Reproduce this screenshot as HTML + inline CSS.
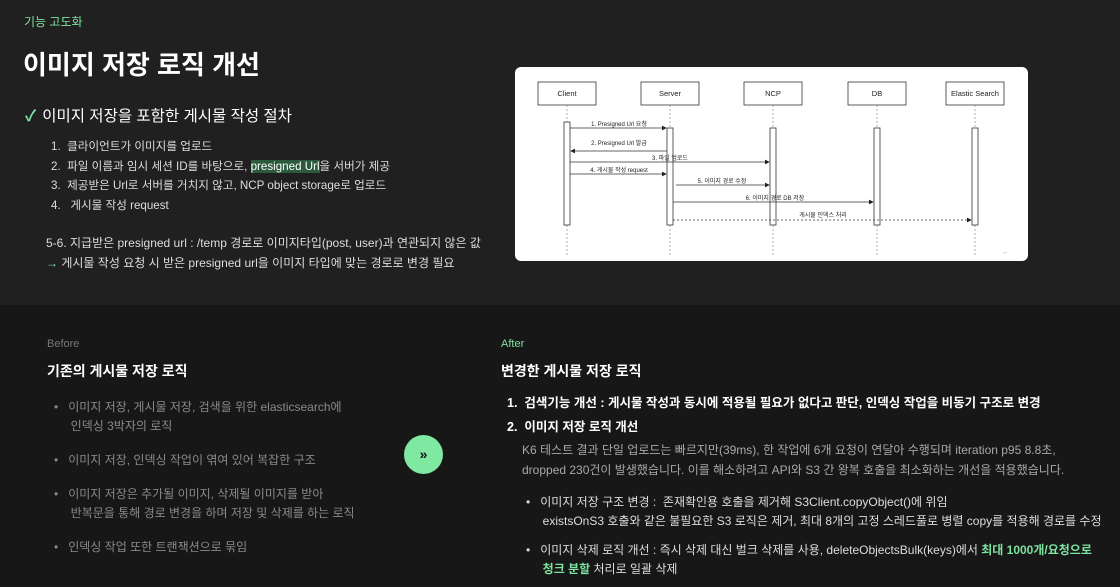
<!DOCTYPE html>
<html><head><meta charset="utf-8"><style>
*{margin:0;padding:0;box-sizing:border-box}
body{width:1120px;height:587px;overflow:hidden;background:#171717;font-family:"Liberation Sans","Noto Sans CJK KR",sans-serif;color:#e8e8e8;position:relative}
.top{position:absolute;left:0;top:0;width:1120px;height:305px;background:#202020}
.a{position:absolute;white-space:nowrap}
.g{color:#7de3a0}
</style></head><body>
<div class="top"></div>
<div class="a g" style="left:24px;top:13px;font-size:12px">기능 고도화</div>
<div class="a" style="left:23px;top:45px;font-size:26px;font-weight:bold;color:#fff">이미지 저장 로직 개선</div>
<div class="a" style="left:25px;top:104px;font-size:15.5px;color:#fff"><span class="g" style="margin-right:6px;font-weight:bold">✓</span>이미지 저장을 포함한 게시물 작성 절차</div>
<div class="a" style="left:51px;top:137px;font-size:11.6px;line-height:19.5px;color:#ddd">
1.&nbsp; 클라이언트가 이미지를 업로드<br>
2.&nbsp; 파일 이름과 임시 세션 ID를 바탕으로, <span style="background:#2c5a3c;color:#fff">presigned Url</span>을 서버가 제공<br>
3.&nbsp; 제공받은 Url로 서버를 거치지 않고, NCP object storage로 업로드<br>
4.&nbsp;&nbsp; 게시물 작성 request</div>
<div class="a" style="left:46px;top:234px;font-size:12px;line-height:19.5px;color:#ddd">
5-6. 지급받은 presigned url : /temp 경로로 이미지타입(post, user)과 연관되지 않은 값<br>
<span class="g">→</span> 게시물 작성 요청 시 받은 presigned url을 이미지 타입에 맞는 경로로 변경 필요</div>

<svg class="a" style="left:515px;top:67px" width="513" height="195" viewBox="515 67 513 195">
<rect x="515" y="67" width="513" height="194" rx="6" fill="#fff"/>
<g fill="#fff" stroke="#333" stroke-width="0.8">
<rect x="538" y="82" width="58" height="23"/><rect x="641" y="82" width="58" height="23"/><rect x="744" y="82" width="58" height="23"/><rect x="848" y="82" width="58" height="23"/><rect x="946" y="82" width="58" height="23"/>
</g>
<g font-size="7.5" fill="#222" text-anchor="middle" font-family="Liberation Sans,Noto Sans CJK KR,sans-serif">
<text x="567" y="96">Client</text><text x="670" y="96">Server</text><text x="773" y="96">NCP</text><text x="877" y="96">DB</text><text x="975" y="96">Elastic Search</text>
</g>
<g stroke="#777" stroke-width="0.6" stroke-dasharray="2,2">
<line x1="567" y1="105" x2="567" y2="256"/><line x1="670" y1="105" x2="670" y2="256"/><line x1="773" y1="105" x2="773" y2="256"/><line x1="877" y1="105" x2="877" y2="256"/><line x1="975" y1="105" x2="975" y2="256"/>
</g>
<g fill="#fff" stroke="#333" stroke-width="0.8">
<rect x="564" y="122" width="6" height="103"/><rect x="667" y="128" width="6" height="97"/><rect x="770" y="128" width="6" height="97"/><rect x="874" y="128" width="6" height="97"/><rect x="972" y="128" width="6" height="97"/>
</g>
<defs><marker id="m" markerWidth="6" markerHeight="6" refX="5" refY="3" orient="auto"><path d="M0,0L6,3L0,6z" fill="#222"/></marker></defs>
<g stroke="#333" stroke-width="0.8" marker-end="url(#m)">
<line x1="570" y1="128" x2="666" y2="128"/>
<line x1="667" y1="151" x2="571" y2="151"/>
<line x1="570" y1="162" x2="769" y2="162"/>
<line x1="570" y1="174" x2="666" y2="174"/>
<line x1="676" y1="185" x2="769" y2="185"/>
<line x1="673" y1="202" x2="873" y2="202"/>
<line x1="673" y1="220" x2="971" y2="220" stroke-dasharray="2,2"/>
</g>
<g font-size="6" fill="#222" text-anchor="middle" font-family="Liberation Sans,Noto Sans CJK KR,sans-serif">
<text x="619" y="126">1. Presigned Url 요청</text>
<text x="619" y="145">2. Presigned Url 발급</text>
<text x="670" y="160">3. 파일 업로드</text>
<text x="619" y="172">4. 게시물 작성 request</text>
<text x="722" y="183">5. 이미지 경로 수정</text>
<text x="775" y="200">6. 이미지 경로 DB 저장</text>
<text x="823" y="217">게시물 인덱스 처리</text>
</g>
<text x="1002" y="254" font-size="7" fill="#7aa6e0">←</text>
</svg>

<div class="a" style="left:47px;top:338px;font-size:11px;color:#777">Before</div>
<div class="a" style="left:47px;top:361px;font-size:14px;font-weight:bold;color:#fff">기존의 게시물 저장 로직</div>
<div class="a" style="left:54px;top:398px;font-size:12px;line-height:19px;color:#8a8a8a">
<div style="margin-bottom:15px">•&nbsp;&nbsp; 이미지 저장, 게시물 저장, 검색을 위한 elasticsearch에<br>&nbsp;&nbsp;&nbsp;&nbsp;&nbsp;인덱싱 3박자의 로직</div>
<div style="margin-bottom:15px">•&nbsp;&nbsp; 이미지 저장, 인덱싱 작업이 엮여 있어 복잡한 구조</div>
<div style="margin-bottom:15px">•&nbsp;&nbsp; 이미지 저장은 추가될 이미지, 삭제될 이미지를 받아<br>&nbsp;&nbsp;&nbsp;&nbsp;&nbsp;반복문을 통해 경로 변경을 하며 저장 및 삭제를 하는 로직</div>
<div>•&nbsp;&nbsp; 인덱싱 작업 또한 트랜잭션으로 묶임</div></div>
<div class="a" style="left:404px;top:435px;width:39px;height:39px;border-radius:50%;background:#7fe9a2;color:#111;font-size:14px;font-weight:bold;text-align:center;line-height:38px">»</div>

<div class="a g" style="left:501px;top:338px;font-size:11px">After</div>
<div class="a" style="left:501px;top:361px;font-size:14px;font-weight:bold;color:#fff">변경한 게시물 저장 로직</div>
<div class="a" style="left:507px;top:391px;font-size:12.5px;font-weight:bold;color:#fff;line-height:24px">1.&nbsp; 검색기능 개선 : 게시물 작성과 동시에 적용될 필요가 없다고 판단, 인덱싱 작업을 비동기 구조로 변경<br>2.&nbsp; 이미지 저장 로직 개선</div>
<div class="a" style="left:522px;top:440px;font-size:12px;line-height:20px;color:#a8a8a8">K6 테스트 결과 단일 업로드는 빠르지만(39ms), 한 작업에 6개 요청이 연달아 수행되며 iteration p95 8.8초,<br>dropped 230건이 발생했습니다. 이를 해소하려고 API와 S3 간 왕복 호출을 최소화하는 개선을 적용했습니다.</div>
<div class="a" style="left:526px;top:493px;font-size:12px;line-height:19px;color:#ddd">
<div style="margin-bottom:10px">•&nbsp;&nbsp; 이미지 저장 구조 변경 :&nbsp; 존재확인용 호출을 제거해 S3Client.copyObject()에 위임<br>&nbsp;&nbsp;&nbsp;&nbsp; existsOnS3 호출와 같은 불필요한 S3 로직은 제거, 최대 8개의 고정 스레드풀로 병렬 copy를 적용해 경로를 수정</div>
<div>•&nbsp;&nbsp; 이미지 삭제 로직 개선 : 즉시 삭제 대신 벌크 삭제를 사용, deleteObjectsBulk(keys)에서 <b class="g">최대 1000개/요청으로</b><br>&nbsp;&nbsp;&nbsp;&nbsp; <b class="g">청크 분할</b> 처리로 일괄 삭제</div></div>
</body></html>
